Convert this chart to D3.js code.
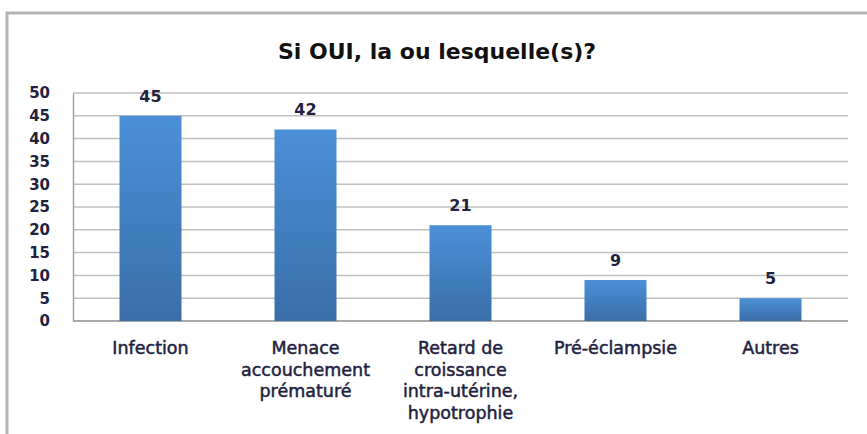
<!DOCTYPE html>
<html>
<head>
<meta charset="utf-8">
<script src="https://cdn.jsdelivr.net/npm/d3@7"></script>
<style>
  body { margin: 0; background: #fff; }
  text { font-family: "DejaVu Sans", sans-serif; }
</style>
</head>
<body>
<svg width="867" height="434"></svg>
<script>
var svg = d3.select("svg"),
    width = +svg.attr("width"),
    height = +svg.attr("height");

var categories = ["Infection", "Menace accouchement prématuré", "Retard de croissance intra-utérine, hypotrophie", "Pré-éclampsie", "Autres"];
var labelLines = [["Infection"], ["Menace", "accouchement", "prématuré"], ["Retard de", "croissance", "intra-utérine,", "hypotrophie"], ["Pré-éclampsie"], ["Autres"]];
var values = [45, 42, 21, 9, 5];
var yTicks = [0, 5, 10, 15, 20, 25, 30, 35, 40, 45, 50];

var plot = {left: 73, right: 848, top: 93, bottom: 321};
var textColor = "#22223f";

// outer frame of the chart area (only top and left visible)
svg.append("path")
  .attr("d", "M7," + height + "V13H" + width)
  .attr("fill", "none")
  .attr("stroke", "#b4b4b4")
  .attr("stroke-width", 3);

svg.append("text")
  .attr("x", 437)
  .attr("y", 59)
  .attr("text-anchor", "middle")
  .style("font-size", "22px")
  .style("font-weight", "bold")
  .attr("fill", "#111")
  .text("Si OUI, la ou lesquelle(s)?");

var x = d3.scaleBand()
  .domain(categories)
  .range([plot.left, plot.right])
  .paddingInner(0.6)
  .paddingOuter(0.3);

var y = d3.scaleLinear()
  .domain([0, 50])
  .range([plot.bottom, plot.top]);

var defs = svg.append("defs");
var grad = defs.append("linearGradient")
  .attr("id", "barGrad")
  .attr("x1", 0).attr("y1", 0).attr("x2", 0).attr("y2", 1);
grad.append("stop").attr("offset", "0%").attr("stop-color", "#4a90d8");
grad.append("stop").attr("offset", "100%").attr("stop-color", "#3a6ea8");

// gridlines
svg.append("g")
  .selectAll("line")
  .data(yTicks)
  .enter()
  .append("line")
  .attr("x1", plot.left)
  .attr("x2", plot.right)
  .attr("y1", d => y(d))
  .attr("y2", d => y(d))
  .attr("stroke", d => d === 0 ? "#8c8c8c" : "#c0c0c0")
  .attr("stroke-width", 1.5);

// y axis
var yAxis = svg.append("g")
  .attr("transform", "translate(" + plot.left + ",0)")
  .call(d3.axisLeft(y).tickValues(yTicks).tickSize(0).tickPadding(23));
yAxis.select(".domain").attr("stroke", "#a0a0a0").attr("stroke-width", 1.5);
yAxis.selectAll("text")
  .style("font-family", "DejaVu Sans")
  .style("font-size", "15px")
  .style("font-weight", "bold")
  .attr("fill", textColor);

// bars
svg.append("g")
  .selectAll("rect")
  .data(values)
  .enter()
  .append("rect")
  .attr("x", (d, i) => x(categories[i]))
  .attr("y", d => y(d))
  .attr("width", x.bandwidth())
  .attr("height", d => y(0) - y(d))
  .attr("fill", "url(#barGrad)");

// value labels
svg.append("g")
  .selectAll("text")
  .data(values)
  .enter()
  .append("text")
  .attr("x", (d, i) => x(categories[i]) + x.bandwidth() / 2)
  .attr("y", d => y(d) - 14)
  .attr("text-anchor", "middle")
  .style("font-size", "16px")
  .style("font-weight", "bold")
  .attr("fill", textColor)
  .text(d => d);

// category labels
var cat = svg.append("g")
  .selectAll("text")
  .data(labelLines)
  .enter()
  .append("text")
  .attr("x", (d, i) => x(categories[i]) + x.bandwidth() / 2)
  .attr("y", 354)
  .attr("text-anchor", "middle")
  .style("font-size", "17.5px")
  .attr("fill", textColor)
  .attr("stroke", textColor)
  .attr("stroke-width", 0.5);

cat.each(function(lines) {
  var t = d3.select(this);
  var cx = t.attr("x");
  lines.forEach((l, j) => {
    t.append("tspan")
      .attr("x", cx)
      .attr("dy", j === 0 ? 0 : 21.5)
      .text(l);
  });
});
</script>
</body>
</html>
